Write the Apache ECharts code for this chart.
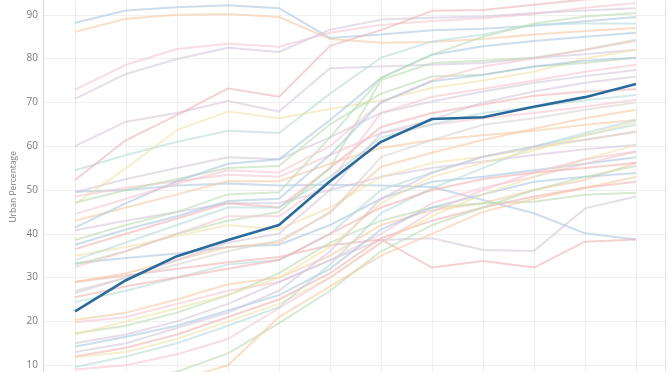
<!DOCTYPE html>
<html><head><meta charset="utf-8">
<script src="https://cdn.jsdelivr.net/npm/echarts@6/dist/echarts.min.js"></script>
<style>html,body{margin:0;padding:0;background:#fff}#c{width:672px;height:372px}</style>
</head><body><div id="c"></div>
<script>
const years = [1960,1965,1970,1975,1980,1985,1990,1995,2000,2005,2010,2015];
const yTicks = [0,10,20,30,40,50,60,70,80,90,100];
const highlight = [22.3,29.4,34.9,38.6,42.0,52.0,61.0,66.2,66.6,69.0,71.2,74.2];

const line01 = [88.2,91.0,91.7,92.2,91.5,84.7,85.5,86.5,86.8,87.5,88.5,89.5];
const line02 = [86.1,89.1,90.0,90.2,89.5,84.5,83.6,83.8,84.5,85.5,86.3,87.0];
const line03 = [72.9,78.6,82.2,83.4,82.7,85.9,87.7,88.6,89.2,90.2,91.6,92.7];
const line04 = [70.8,76.5,79.9,82.5,81.5,86.6,88.9,89.3,89.6,90.4,91.0,91.5];
const line05 = [60.0,65.6,67.6,70.3,67.9,77.8,78.2,78.6,79.0,80.2,81.0,82.0];
const line06 = [54.5,58.0,61.0,63.5,63.0,72.0,80.2,83.9,85.5,87.7,88.0,88.0];
const line07 = [52.3,61.4,67.1,73.2,71.3,82.9,86.5,90.9,91.1,92.3,93.5,94.0];
const line08 = [49.6,50.0,51.0,51.5,51.0,51.2,51.0,50.7,47.7,44.7,40.1,38.7];
const line09 = [49.5,52.5,55.0,57.5,57.0,62.0,67.6,70.2,72.5,74.5,76.0,77.4];
const line10 = [48.5,50.5,52.0,53.5,53.0,58.0,63.0,64.9,66.4,67.6,69.0,70.6];
const line11 = [46.8,55.0,63.7,67.9,66.4,68.5,70.5,73.3,75.0,77.0,80.0,82.0];
const line12 = [47.1,50.0,52.5,55.0,55.5,65.0,72.0,75.9,76.3,78.2,79.0,80.2];
const line13 = [43.0,46.0,49.0,52.0,52.0,56.0,59.6,61.4,62.5,63.5,64.9,66.0];
const line14 = [41.4,47.0,52.0,56.0,57.0,66.0,75.6,80.9,82.8,84.0,85.0,85.9];
const line15 = [40.8,43.0,45.0,47.0,47.0,50.0,53.0,55.0,56.5,58.0,59.3,60.3];
const line16 = [38.6,42.0,45.0,49.0,49.5,62.0,75.6,80.9,85.0,88.0,89.6,90.4];
const line17 = [36.5,40.0,43.5,47.0,46.0,55.0,64.4,67.6,69.5,71.5,72.5,73.0];
const line18 = [35.0,37.0,39.5,42.0,41.0,46.0,53.0,56.2,57.6,59.5,61.4,63.3];
const line19 = [34.0,38.0,42.0,46.0,46.0,53.0,62.0,65.0,67.6,69.0,70.5,71.7];
const line20 = [33.3,34.5,35.5,37.0,37.5,42.0,48.0,51.9,53.0,54.5,56.0,57.5];
const line21 = [33.0,36.0,40.0,43.0,45.0,55.0,75.1,79.0,79.5,80.2,82.0,84.3];
const line22 = [32.4,36.0,40.0,44.0,44.0,52.0,67.6,71.3,73.1,75.0,77.0,78.6];
const line23 = [29.0,30.5,32.0,33.5,34.7,37.4,38.7,32.3,33.8,32.3,38.2,38.7];
const line24 = [29.0,31.0,34.0,37.0,38.0,45.0,55.3,58.5,61.4,64.0,66.4,68.3];
const line25 = [26.5,30.0,34.0,38.0,40.0,50.0,63.0,66.0,70.0,72.5,74.5,75.9];
const line26 = [24.4,27.0,30.0,33.0,34.0,40.0,50.0,54.0,57.6,60.0,62.5,64.9];
const line28 = [20.3,22.0,25.0,28.5,30.0,35.0,42.0,45.4,47.0,50.0,52.3,56.2];
const line29 = [19.8,21.0,24.0,27.0,29.0,34.0,40.0,47.0,50.5,53.0,56.0,58.8];
const line30 = [17.3,19.0,22.0,26.0,31.0,38.0,43.0,46.0,47.0,47.3,48.9,49.4];
const line31 = [15.0,17.0,20.0,24.0,29.0,34.0,38.6,39.0,36.3,36.1,45.8,48.5];
const line32 = [14.2,16.5,19.0,22.5,26.0,32.0,41.0,46.0,49.0,51.9,53.0,53.9];
const line33 = [12.0,14.0,17.0,21.0,25.0,31.0,39.0,43.0,46.0,48.5,50.5,51.9];
const line34 = [11.8,13.0,16.0,20.0,24.0,30.0,38.0,44.0,49.0,53.0,57.0,60.3];
const line35 = [9.6,12.0,15.0,19.0,23.3,33.0,44.7,50.4,55.0,59.9,63.0,66.0];
const line36 = [9.0,10.0,12.5,16.0,23.0,30.0,38.0,45.0,50.0,54.0,57.0,58.8];
const line37 = [5.0,6.5,8.5,12.7,19.6,27.0,36.0,42.0,46.0,50.0,53.0,55.5];
const line38 = [3.0,4.5,6.5,10.0,21.0,28.0,35.0,40.0,45.0,48.0,50.5,53.0];
const line39 = [27.0,30.0,33.0,36.0,38.5,44.7,57.5,61.4,64.9,66.4,68.3,70.0];
const line40 = [44.5,48.0,51.5,54.5,54.0,60.0,70.0,75.0,78.2,80.0,82.0,84.0];
const line41 = [37.5,41.0,44.0,47.5,48.0,58.0,70.0,74.8,76.3,78.2,79.5,80.2];
const line42 = [13.0,15.0,18.5,22.0,27.0,36.0,48.0,53.9,57.6,59.9,61.5,63.3];
const line43 = [17.0,20.0,23.0,26.0,30.0,37.0,47.0,53.0,56.2,59.0,62.5,65.5];
const line44 = [25.5,28.0,30.0,32.0,34.0,40.0,46.0,50.0,52.5,54.0,55.0,56.2];

const others = [line01,line02,line03,line04,line05,line06,line07,line08,line09,line10,line11,line12,line13,line14,line15,line16,line17,line18,line19,line20,line21,line22,line23,line24,line25,line26,line28,line29,line30,line31,line32,line33,line34,line35,line36,line37,line38,line39,line40,line41,line42,line43,line44];

const C = {blue:'#aac6e0',orange:'#f5caa4',red:'#efb2b2',green:'#bcdcb2',purple:'#d5c6dc',pink:'#f3c6cf',teal:'#b8dcd9',yellow:'#f0e2aa',grey:'#d9d4d1'};
const otherColors = ['blue','orange','pink','purple','purple','teal','red','blue','purple','pink','yellow','green','orange','blue','purple','green','red','yellow','teal','blue','green','pink','red','orange','purple','teal','orange','pink','green','purple','blue','red','yellow','teal','pink','green','orange','grey','pink','blue','purple','yellow','red'];

const series = others.map((arr,i)=>({
  type:'line', xAxisIndex:1, yAxisIndex:1, symbol:'none', silent:true,
  data: years.map((y,k)=>[y,arr[k]]),
  lineStyle:{width:2, color:C[otherColors[i]], opacity:0.6},
  z:2
}));
series.push({
  type:'line', xAxisIndex:1, yAxisIndex:1, symbol:'none', silent:true,
  data: years.map((y,k)=>[y,highlight[k]]),
  lineStyle:{width:2.6, color:'#2a6a9b'}, z:10
});

const chart = echarts.init(document.getElementById('c'), null, {renderer:'canvas'});
chart.setOption({
  animation:false,
  backgroundColor:'#ffffff',
  grid:[
    {left:43, right:7, top:-29, bottom:-37, outerBoundsMode:'none', containLabel:false},
    {left:75, right:36, top:-29, bottom:-37, outerBoundsMode:'none', containLabel:false}
  ],
  xAxis:[
    {gridIndex:0, type:'value', min:0, max:1, show:false},
    {gridIndex:1, type:'value', min:1960, max:2015, interval:5,
     axisLine:{show:false}, axisTick:{show:false}, axisLabel:{show:false},
     splitLine:{show:true, lineStyle:{color:'#efefef', width:1}}}
  ],
  yAxis:[
    {gridIndex:0, type:'value', min:yTicks[0], max:yTicks[yTicks.length-1], interval:10,
     axisLine:{show:true, lineStyle:{color:'#d6d6d6', width:1}},
     axisTick:{show:false},
     axisLabel:{color:'#7a7a7a', fontSize:10, margin:5, fontFamily:'Open Sans'},
     splitLine:{show:true, lineStyle:{color:'#efefef', width:1}}},
    {gridIndex:1, type:'value', min:0, max:100, show:false},
    {gridIndex:0, type:'value', min:0, max:100, position:'right',
     axisLine:{show:true, lineStyle:{color:'#e4e4e4', width:1}},
     axisTick:{show:false}, axisLabel:{show:false}, splitLine:{show:false}}
  ],
  graphic:[{
    type:'text', left:9, top:151, rotation:Math.PI/2,
    style:{text:'Urban Percentage', fill:'#7a7a7a', font:'8.5px "Open Sans"'}
  }],
  series: series
});
</script></body></html>
